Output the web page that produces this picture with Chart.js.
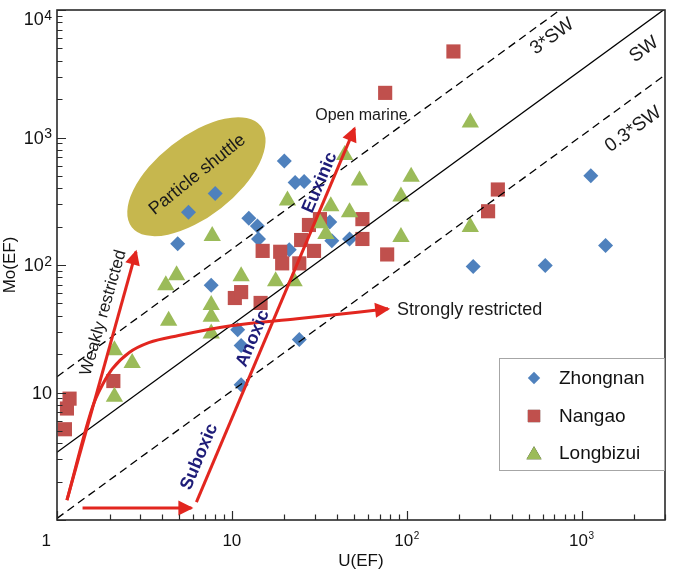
<!DOCTYPE html>
<html><head><meta charset="utf-8">
<script src="https://cdn.jsdelivr.net/npm/chart.js@4.4.1/dist/chart.umd.min.js"></script>
<style>html,body{margin:0;padding:0;background:#fff}#wrap{width:675px;height:582px}</style>
</head><body><div id="wrap"><canvas id="c" width="675" height="582"></canvas></div>
<script>
// ---------------- data ----------------
const seriesNames = ['Zhongnan', 'Nangao', 'Longbizui'];
const zhongnanU  = [5.65, 8.03, 4.90, 19.95, 23.0, 25.9, 12.5, 14.0, 14.2, 7.62, 36.3, 37.3, 47.1, 10.8, 11.3, 11.3, 24.3, 1129, 1372, 240, 620, 21.3];
const zhongnanMo = [259, 364, 147, 655, 443, 451, 233, 202, 160, 69.4, 217, 155, 160, 31.1, 23.4, 11.5, 26.1, 501, 142, 97.3, 99, 132];
const nangaoU  = [1.18, 1.14, 1.11, 2.10, 10.4, 11.3, 14.6, 15.0, 18.9, 19.4, 24.3, 24.9, 29.5, 27.6, 31.9, 55.8, 55.8, 77.3, 185, 75.3, 332, 292];
const nangaoMo = [8.95, 7.49, 5.15, 12.3, 55.1, 61.3, 50.4, 129, 127, 103, 103, 157, 129, 206, 229, 229, 160, 121, 4730, 2239, 391, 264];
const longbizuiU  = [2.13, 2.69, 2.13, 4.35, 4.19, 4.83, 7.72, 7.62, 7.62, 7.62, 11.3, 17.8, 22.7, 20.8, 44.2, 53.7, 36.8, 47.1, 31.9, 34.5, 231, 106, 92.7, 92.7, 231];
const longbizuiMo = [21.4, 17.0, 9.27, 36.5, 69.4, 83.0, 169, 48.6, 39.2, 29.0, 81.5, 74.5, 74.5, 321, 729, 459, 289, 259, 213, 175, 1312, 493, 345, 166, 199];

// reference lines (Mo_EF vs U_EF)
const lineU    = [1, 3000];
const swLine   = [3.4, 10200];
const sw3Line  = [13.3, 39900];
const sw03Line = [1.03, 3090];

// red trend arrows
const weakU = [1.14, 2.83];            const weakMo = [1.43, 127];
const strongU  = [1.14, 1.60, 1.82, 2.07, 2.59, 3.35, 4.96, 9.88, 23.6, 78.3];
const strongMo = [1.43, 7.76, 11.5, 15.3, 20.6, 24.6, 28.0, 33.4, 37.9, 45.3];
const suboxU = [1.40, 5.87];           const suboxMo = [1.24, 1.24];
const euxU = [6.27, 50.3];             const euxMo = [1.38, 1180];

// axis ticks
const xRange = [1, 3000];
const yRange = [1, 10000];
const xMajor = [1, 10, 100, 1000];     const xTickLabels = ['1', '10', '10^2', '10^3'];
const yMajor = [10, 100, 1000, 10000]; const yTickLabels = ['10', '10^2', '10^3', '10^4'];

// ---------------- styles / annotations ----------------
const FONT = "'Liberation Sans', Arial, sans-serif";
const RED = '#e2261f';
const NAVY = '#1e1c78';
const notes = [
  {text: 'Weakly restricted', u: 1.845, mo: 42.2, rot: -74, size: 17, bold: false, color: '#1a1a1a'},
  {text: 'Open marine', u: 55.1, mo: 1486, rot: 0, size: 16, bold: false, color: '#1a1a1a'},
  {text: 'Strongly restricted', u: 229, mo: 44.5, rot: 0, size: 18, bold: false, color: '#1a1a1a'},
  {text: '3*SW', u: 679, mo: 6185, rot: -36, size: 19, bold: false, color: '#1a1a1a'},
  {text: 'SW', u: 2280, mo: 4908, rot: -36, size: 19, bold: false, color: '#1a1a1a'},
  {text: '0.3*SW', u: 1976, mo: 1159, rot: -36, size: 19, bold: false, color: '#1a1a1a'},
  {text: 'Suboxic', u: 6.52, mo: 3.13, rot: -67, size: 18, bold: true, color: NAVY},
  {text: 'Anoxic', u: 13.2, mo: 26.5, rot: -67, size: 18, bold: true, color: NAVY},
  {text: 'Euxinic', u: 31.9, mo: 443, rot: -67, size: 18, bold: true, color: NAVY}
];
const shuttle = {text: 'Particle shuttle', u: 6.27, mo: 493, tu: 6.35, tmo: 511, rx: 82, ry: 40, rot: -38, textRot: -38.7, size: 18, fill: '#c6b74e'};
const seriesColors = ['#4f81bd', '#c0504d', '#9bbb59'];
const seriesStyles = ['rectRot', 'rect', 'triangle'];

const pts = (xs, ys) => xs.map((x, i) => ({x: x, y: ys[i]}));

const datasets = [
  {label: seriesNames[0], data: pts(zhongnanU, zhongnanMo), pointStyle: seriesStyles[0], pointRadius: 7.5, backgroundColor: seriesColors[0], borderWidth: 0, pointBorderWidth: 0, order: 6, legendRadius: 6.2},
  {label: seriesNames[1], data: pts(nangaoU, nangaoMo), pointStyle: seriesStyles[1], pointRadius: 10, backgroundColor: seriesColors[1], borderWidth: 0, pointBorderWidth: 0, order: 5, legendRadius: 8.7},
  {label: seriesNames[2], data: pts(longbizuiU, longbizuiMo), pointStyle: seriesStyles[2], pointRadius: 10, backgroundColor: seriesColors[2], borderWidth: 0, pointBorderWidth: 0, order: 4, legendRadius: 8.7},
  {label: 'SW', data: pts(lineU, swLine), showLine: true, borderColor: '#000', borderWidth: 1.3, pointRadius: 0, order: 3, isAux: true},
  {label: '3*SW', data: pts(lineU, sw3Line), showLine: true, borderColor: '#000', borderWidth: 1.3, borderDash: [8, 5], pointRadius: 0, order: 3, isAux: true},
  {label: '0.3*SW', data: pts(lineU, sw03Line), showLine: true, borderColor: '#000', borderWidth: 1.3, borderDash: [8, 5], pointRadius: 0, order: 3, isAux: true},
  {label: 'weak', data: pts(weakU, weakMo), showLine: true, borderColor: RED, borderWidth: 3, pointRadius: 0, order: 2, arrow: true, isAux: true},
  {label: 'strong', data: pts(strongU, strongMo), showLine: true, borderColor: RED, borderWidth: 3, pointRadius: 0, order: 2, arrow: true, isAux: true, cubicInterpolationMode: 'monotone'},
  {label: 'subox', data: pts(suboxU, suboxMo), showLine: true, borderColor: RED, borderWidth: 3, pointRadius: 0, order: 2, arrow: true, isAux: true},
  {label: 'eux', data: pts(euxU, euxMo), showLine: true, borderColor: RED, borderWidth: 3, pointRadius: 0, order: 2, arrow: true, isAux: true}
];

function drawTickLabel(ctx, label, x, baseY, align, size, supSize, raise) {
  const parts = label.split('^');
  ctx.font = size + 'px ' + FONT;
  const w1 = ctx.measureText(parts[0]).width;
  let w2 = 0;
  if (parts[1]) { ctx.font = supSize + 'px ' + FONT; w2 = ctx.measureText(parts[1]).width + 0.5; }
  const total = w1 + w2;
  let x0 = align === 'right' ? x - total : (align === 'center' ? x - total / 2 : x);
  ctx.textAlign = 'left';
  ctx.textBaseline = 'alphabetic';
  ctx.font = size + 'px ' + FONT;
  ctx.fillText(parts[0], x0, baseY);
  if (parts[1]) { ctx.font = supSize + 'px ' + FONT; ctx.fillText(parts[1], x0 + w1 + 0.5, baseY - raise); }
}

function minorValues(min, max) {
  const out = [];
  for (let d = 1; d <= max; d *= 10) {
    for (let m = 1; m <= 9; m++) { const v = m * d; if (v >= min && v <= max) out.push({v: v, major: m === 1}); }
  }
  return out;
}

const decorPlugin = {
  id: 'decor',
  beforeDatasetsDraw(chart) {
    const ctx = chart.ctx, xs = chart.scales.x, ys = chart.scales.y, a = chart.chartArea;
    ctx.save();
    ctx.beginPath(); ctx.rect(a.left, a.top, a.right - a.left, a.bottom - a.top); ctx.clip();
    const cx = xs.getPixelForValue(shuttle.u), cy = ys.getPixelForValue(shuttle.mo);
    ctx.beginPath();
    ctx.ellipse(cx, cy, shuttle.rx, shuttle.ry, shuttle.rot * Math.PI / 180, 0, Math.PI * 2);
    ctx.fillStyle = shuttle.fill; ctx.fill();
    const tx = xs.getPixelForValue(shuttle.tu), ty = ys.getPixelForValue(shuttle.tmo);
    ctx.translate(tx, ty); ctx.rotate(shuttle.textRot * Math.PI / 180);
    ctx.fillStyle = '#1a1a1a'; ctx.font = shuttle.size + 'px ' + FONT;
    ctx.textAlign = 'center'; ctx.textBaseline = 'middle';
    ctx.fillText(shuttle.text, 0, 0);
    ctx.restore();
  },
  afterDatasetsDraw(chart) {
    const ctx = chart.ctx, xs = chart.scales.x, ys = chart.scales.y, a = chart.chartArea;
    ctx.save();
    // arrowheads
    chart.data.datasets.forEach((ds, i) => {
      if (!ds.arrow) return;
      const p = chart.getDatasetMeta(i).data;
      const A = p[p.length - 2], B = p[p.length - 1];
      const ang = Math.atan2(B.y - A.y, B.x - A.x);
      const L = 13, W = 7.5;
      ctx.save(); ctx.translate(B.x, B.y); ctx.rotate(ang);
      ctx.beginPath(); ctx.moveTo(2, 0); ctx.lineTo(-L, -W); ctx.lineTo(-L, W); ctx.closePath();
      ctx.fillStyle = RED; ctx.fill(); ctx.restore();
    });
    // frame
    ctx.strokeStyle = '#2a2a2a'; ctx.lineWidth = 1.6;
    ctx.strokeRect(a.left, a.top, a.right - a.left, a.bottom - a.top);
    // inward ticks
    ctx.lineWidth = 1.2;
    ctx.beginPath();
    minorValues(xRange[0], xRange[1]).forEach(t => {
      const px = Math.round(xs.getPixelForValue(t.v)) + 0.5;
      const len = t.major ? 9 : 5.5;
      ctx.moveTo(px, a.bottom); ctx.lineTo(px, a.bottom - len);
    });
    minorValues(yRange[0], yRange[1]).forEach(t => {
      const py = Math.round(ys.getPixelForValue(t.v)) + 0.5;
      const len = t.major ? 9 : 5.5;
      ctx.moveTo(a.left, py); ctx.lineTo(a.left + len, py);
    });
    ctx.stroke();
    // tick labels
    ctx.fillStyle = '#111';
    yMajor.forEach((v, i) => {
      let cy = ys.getPixelForValue(v);
      cy = Math.max(cy, a.top + 9);
      drawTickLabel(ctx, yTickLabels[i], a.left - 5, cy + 6.4, 'right', 18, 14, 5.5);
    });
    xMajor.forEach((v, i) => {
      const px = xs.getPixelForValue(v);
      if (px <= a.left + 1) drawTickLabel(ctx, xTickLabels[i], a.left - 6, 546, 'right', 17, 10, 7);
      else drawTickLabel(ctx, xTickLabels[i], px, 546, 'center', 17, 10, 7);
    });
    // annotations
    notes.forEach(n => {
      const x = xs.getPixelForValue(n.u), y = ys.getPixelForValue(n.mo);
      ctx.save(); ctx.translate(x, y); ctx.rotate(n.rot * Math.PI / 180);
      ctx.font = (n.bold ? 'bold ' : '') + n.size + 'px ' + FONT;
      ctx.fillStyle = n.color; ctx.textAlign = 'center'; ctx.textBaseline = 'middle';
      ctx.fillText(n.text, 0, 0);
      ctx.restore();
    });
    // legend
    const lx = 499.5, ly = 358.5, lw = 165, lh = 112;
    ctx.fillStyle = '#fff'; ctx.fillRect(lx, ly, lw, lh);
    ctx.strokeStyle = '#a6a6a6'; ctx.lineWidth = 1; ctx.strokeRect(lx, ly, lw, lh);
    const rows = [378, 416, 453];
    chart.data.datasets.slice(0, 3).forEach((ds, i) => {
      Chart.helpers.drawPoint(ctx, {pointStyle: ds.pointStyle, radius: ds.legendRadius, borderWidth: 0, rotation: 0}, 534, rows[i] + (ds.pointStyle === 'triangle' ? 2 : 0));
      ctx.fillStyle = ds.backgroundColor; ctx.fill();
      ctx.fillStyle = '#111'; ctx.font = '19px ' + FONT;
      ctx.textAlign = 'left'; ctx.textBaseline = 'middle';
      ctx.fillText(ds.label, 559, rows[i] + 1);
    });
    ctx.restore();
  }
};

new Chart(document.getElementById('c'), {
  type: 'scatter',
  data: {datasets: datasets},
  options: {
    responsive: false,
    animation: false,
    devicePixelRatio: 1,
    layout: {padding: {left: 0, top: 3, right: 3, bottom: 0}},
    plugins: {legend: {display: false}, tooltip: {enabled: false}},
    elements: {line: {tension: 0}},
    scales: {
      x: {
        type: 'logarithmic', position: 'bottom', min: xRange[0], max: xRange[1],
        grid: {display: false}, border: {display: false}, ticks: {display: false},
        title: {display: true, text: 'U(EF)', color: '#111', font: {size: 17, family: FONT}, padding: {top: 0, bottom: 10}},
        afterFit: s => { s.height = 62; }
      },
      y: {
        type: 'logarithmic', position: 'left', min: yRange[0], max: yRange[1],
        grid: {display: false}, border: {display: false}, ticks: {display: false},
        title: {display: true, text: 'Mo(EF)', color: '#111', font: {size: 17, family: FONT}, padding: {top: 0, bottom: 0}},
        afterFit: s => { s.width = 57; }
      }
    }
  },
  plugins: [decorPlugin]
});
</script>
</body></html>
